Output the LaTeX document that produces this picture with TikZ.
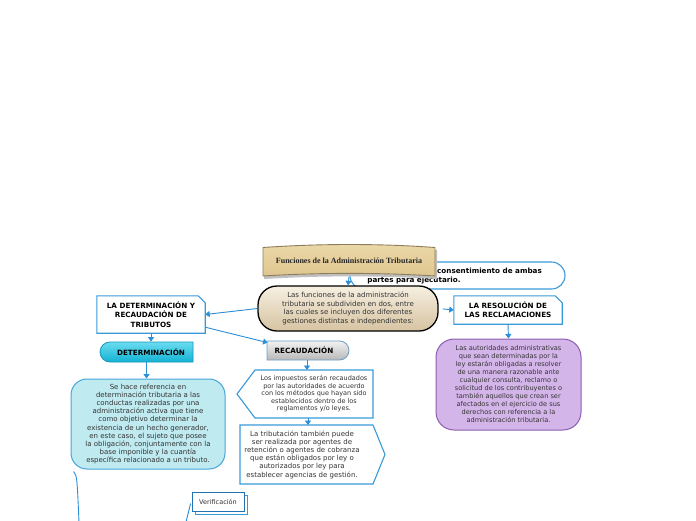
\documentclass[tikz,border=0pt]{standalone}
\usepackage{fontspec}
\setmainfont{DejaVu Sans}
\newfontfamily\titlefont{Liberation Serif}
\usetikzlibrary{shapes.misc,arrows.meta,calc}
\definecolor{bl}{HTML}{3A9AD9}
\definecolor{arr}{HTML}{2B8FD8}
\definecolor{txt}{HTML}{333333}
\definecolor{cyfill}{HTML}{BFEAF0}
\definecolor{cyline}{HTML}{45A5DA}
\definecolor{pufill}{HTML}{D4B5E9}
\definecolor{puline}{HTML}{8C5DB0}
\definecolor{centop}{HTML}{F6EFE1}
\definecolor{cenbot}{HTML}{D6C3A1}
\definecolor{tantop}{HTML}{EBD8A8}
\definecolor{tanbot}{HTML}{DFC690}
\definecolor{tanline}{HTML}{8E7D5C}
\definecolor{dettop}{HTML}{6ADCF0}
\definecolor{detbot}{HTML}{12B2D3}
\definecolor{detline}{HTML}{1A96BC}
\definecolor{rectop}{HTML}{F2F2F2}
\definecolor{recbot}{HTML}{B8B8B8}
\definecolor{recline}{HTML}{6F9CC4}
\definecolor{verline}{HTML}{2372B3}
\tikzset{
  conn/.style={draw=arr, line width=0.9pt, -{Triangle[width=6pt,length=4.5pt]}},
  plainline/.style={draw=arr, line width=0.9pt},
  boxline/.style={draw=bl, line width=1.1pt},
  bodytext/.style={text=txt, align=center, inner sep=0pt},
  headtext/.style={text=black, align=center, inner sep=0pt, font=\bfseries\fontsize{7.2}{9.4}\selectfont},
}
\begin{document}
\begin{tikzpicture}[x=1pt,y=-1pt]
\useasboundingbox (0,0) rectangle (696,520);
\fill[white] (0,0) rectangle (696,520);

% bubble behind the title
\node[rounded rectangle, boxline, fill=white, minimum width=215, minimum height=27, inner sep=0] (bub) at (457.5,275.5) {};
\node[anchor=west, headtext] (bub1) at (437,271) {consentimiento de ambas};
\node[headtext] (bub2) at (414,280.5) {partes para ejecutario.};

% title
\fill[black!25] (264,250) .. controls (320,246) and (380,246) .. (437,250) -- (437,279)
  .. controls (380,275.5) and (320,275.5) .. (264,279) -- cycle;
\path[draw=tanline, line width=0.9pt, top color=tantop, bottom color=tanbot]
  (263,247.5) .. controls (320,243.5) and (380,243.5) .. (435,247.5) -- (435,276)
  .. controls (380,272.5) and (320,272.5) .. (263,276) -- cycle;
\node[inner sep=0, minimum width=172, minimum height=31, font=\titlefont\bfseries\fontsize{8}{10}\selectfont, text=black!85] (title) at (349,261) {Funciones de la Administración Tributaria};

% central
\node[draw=black, line width=1.3pt, rounded corners=19, top color=centop, bottom color=cenbot,
  minimum width=180, minimum height=45, bodytext, font=\fontsize{7}{8.7}\selectfont] (central) at (348,308.5)
  {Las funciones de la administración\\tributaria se subdividen en dos, entre\\las cuales se incluyen dos diferentes\\gestiones distintas e independientes:};

% left branch header
\node[minimum width=108, minimum height=37, inner sep=0] (det) at (151,314.5) {};
\draw[boxline, fill=white] (det.south west) |- ([xshift=-7pt]det.north east) -- ([yshift=-7pt]det.north east) |- cycle;
\node[headtext] at (det.center) {LA DETERMINACIÓN Y\\RECAUDACIÓN DE\\TRIBUTOS};

% DETERMINACIÓN
\node[rounded rectangle, rounded rectangle right arc=none, draw=detline, line width=0.8pt,
  top color=dettop, bottom color=detbot, minimum width=93, minimum height=20, inner sep=0] (dtm) at (146.5,352) {};
\node[headtext] at (151,352) {DETERMINACIÓN};

% cyan text box
\node[draw=cyline, line width=1pt, fill=cyfill, rounded corners=16, minimum width=154, minimum height=90,
  bodytext, font=\fontsize{7}{8.2}\selectfont] (cyan) at (148,424)
  {Se hace referencia en\\determinación tributaria a las\\conductas realizadas por una\\administración activa que tiene\\como objetivo determinar la\\existencia de un hecho generador,\\en este caso, el sujeto que posee\\la obligación, conjuntamente con la\\base imponible y la cuantía\\específica relacionado a un tributo.};

% RECAUDACIÓN
\node[rounded rectangle, rounded rectangle left arc=none, draw=recline, line width=0.8pt,
  top color=rectop, bottom color=recbot, minimum width=82, minimum height=19, inner sep=0] (rec) at (308,350.5) {};
\node[headtext] at (304,350.5) {RECAUDACIÓN};

% impuestos (pointing left)
\node[minimum width=136, minimum height=48, inner sep=0] (imp) at (305,394) {};
\draw[boxline, fill=white] (373,370) -- (373,418) -- (255,418) -- (237,394) -- (255,370) -- cycle;
\node[bodytext, font=\fontsize{6.5}{7.5}\selectfont] at (314,394)
  {Los impuestos serán recaudados\\por las autoridades de acuerdo\\con los métodos que hayan sido\\establecidos dentro de los\\reglamentos y/o leyes.};

% tributacion (pointing right)
\node[minimum width=145, minimum height=59, inner sep=0] (trib) at (312.5,454.5) {};
\draw[boxline, fill=white] (240,425) -- (373,425) -- (385,454.5) -- (373,484) -- (240,484) -- cycle;
\node[bodytext, font=\fontsize{7}{8.2}\selectfont] at (302,454.5)
  {La tributación también puede\\ser realizada por agentes de\\retención o agentes de cobranza\\que están obligados por ley o\\autorizados por ley para\\establecer agencias de gestión.};

% right branch header
\node[minimum width=108, minimum height=28, inner sep=0] (res) at (508,310) {};
\draw[boxline, fill=white] (res.south west) |- ([xshift=-7pt]res.north east) -- ([yshift=-7pt]res.north east) |- cycle;
\node[headtext] at (res.center) {LA RESOLUCIÓN DE\\LAS RECLAMACIONES};

% purple box
\node[draw=puline, line width=1pt, fill=pufill, rounded corners=18, minimum width=145, minimum height=91,
  bodytext, font=\fontsize{6.6}{8}\selectfont] (pur) at (508.5,384.5)
  {Las autoridades administrativas\\que sean determinadas por la\\ley estarán obligadas a resolver\\de una manera razonable ante\\cualquier consulta, reclamo o\\solicitud de los contribuyentes o\\también aquellos que crean ser\\afectados en el ejercicio de sus\\derechos con referencia a la\\administración tributaria.};

% Verificacion
\draw[draw=bl, line width=0.8pt, fill=white] (195,495) rectangle (247,514);
\node[draw=verline, line width=0.9pt, fill=white, minimum width=52, minimum height=19, inner sep=0,
  text=txt, font=\fontsize{6.5}{8}\selectfont] (ver) at (218,501.5) {Verificación};

% connectors
\draw[conn] (title.south) -- (central.north);
\draw[conn] (central.west) -- (det.east);
\draw[conn] ([yshift=6pt]det.south east) -- ([xshift=1pt,yshift=-2pt]rec.north west);
\draw[conn, shorten <=4pt] (central.east) -- (res.west);
\draw[conn] (det.south) -- (det.south |- dtm.north);
\draw[conn] (dtm.south) -- (dtm.south |- cyan.north);
\draw[conn] (rec.south -| 307,0) -- (307,370);
\draw[conn] (imp.south -| 308,0) -- (308,425);
\draw[conn] (res.south) -- (pur.north);

\coordinate (e1) at (79,522);
\coordinate (e2) at (186,522);
\draw[plainline] ($(cyan.south west)+(3,2)$) .. controls (77,476) .. (e1);
\draw[plainline] ($(ver.west)+(-1,2)$) .. controls (189,510) .. (e2);
\end{tikzpicture}
\end{document}
